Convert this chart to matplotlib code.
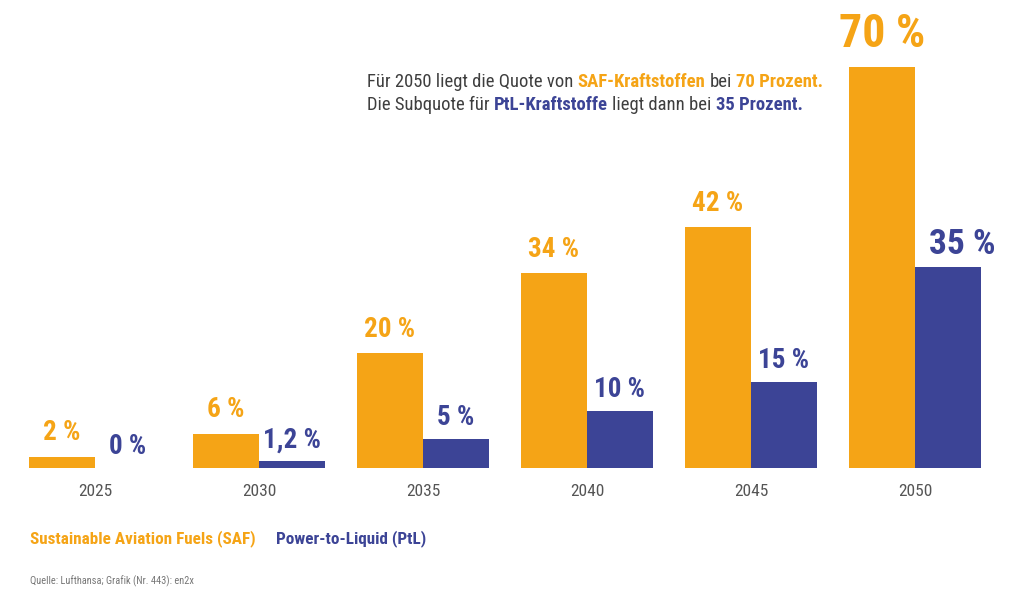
import matplotlib
matplotlib.use('Agg')
import numpy as np
import matplotlib.pyplot as plt

# data
years = ['2025', '2030', '2035', '2040', '2045', '2050']
saf = [2, 6, 20, 34, 42, 70]
ptl = [0, 1.2, 5, 10, 15, 35]
saf_labels = ['2 %', '6 %', '20 %', '34 %', '42 %', '70 %']
ptl_labels = ['0 %', '1,2 %', '5 %', '10 %', '15 %', '35 %']

ORANGE = '#F5A416'
BLUE = '#3C4496'
GREY = '#555555'
plt.rcParams['font.family'] = ['Roboto Condensed', 'DejaVu Sans']

W, H = 1024, 603
fig = plt.figure(figsize=(W / 100, H / 100), dpi=100)

# axes laid out in pixels: baseline at y=468, group centres at 95 + 164*i
px_per_unit = 164.0
px_per_pct = 5.73
x0 = 95
ax = fig.add_axes([0, (H - 468) / H, 1, 468 / H])
ax.set_xlim(-x0 / px_per_unit, (W - x0) / px_per_unit)
ax.set_ylim(0, 468 / px_per_pct)
ax.axis('off')

x = np.arange(len(years))
bw = 66 / px_per_unit
ax.bar(x - bw / 2, saf, bw, color=ORANGE, linewidth=0)
ax.bar(x + bw / 2, ptl, bw, color=BLUE, linewidth=0)

for i in range(len(years)):
    last = i == len(years) - 1
    ax.annotate(saf_labels[i], (x[i] - bw / 2, saf[i]), xytext=(0, 14 if last else 12),
                textcoords='offset points', ha='center', va='baseline', color=ORANGE,
                fontsize=33 if last else 19.5, fontweight='bold')
    ax.annotate(ptl_labels[i], (x[i] + bw / 2, ptl[i]), xytext=(10 if last else 0, 10),
                textcoords='offset points', ha='center', va='baseline', color=BLUE,
                fontsize=25.5 if last else 19.5, fontweight='bold')
    ax.annotate(years[i], (x[i], 0), xytext=(0, -11.5), textcoords='offset points',
                ha='center', va='top', color=GREY, fontsize=12.5)

fig.canvas.draw()
renderer = fig.canvas.get_renderer()


def rich_line(pieces, xpx, ypx, size):
    # pieces: list of (text, colour, weight); joined by single spaces
    probe = fig.text(0, 0, 'a a', fontsize=size)
    w1 = probe.get_window_extent(renderer).width
    probe.set_text('aa')
    space = w1 - probe.get_window_extent(renderer).width
    probe.remove()
    cur = xpx
    for txt, col, wt in pieces:
        t = fig.text(cur / W, 1 - ypx / H, txt, color=col, fontweight=wt, fontsize=size,
                     ha='left', va='baseline')
        cur += t.get_window_extent(renderer).width + space


TXT = '#3e3e3e'
rich_line([('Für 2050 liegt die Quote von', TXT, 'normal'),
           ('SAF-Kraftstoffen', ORANGE, 'bold'),
           ('bei', TXT, 'normal'),
           ('70 Prozent.', ORANGE, 'bold')], 367, 87, 13.4)
rich_line([('Die Subquote für', TXT, 'normal'),
           ('PtL-Kraftstoffe', BLUE, 'bold'),
           ('liegt dann bei', TXT, 'normal'),
           ('35 Prozent.', BLUE, 'bold')], 367, 110, 13.4)

fig.text(30 / W, 1 - 543 / H, 'Sustainable Aviation Fuels (SAF)', color=ORANGE,
         fontweight='bold', fontsize=12.3, ha='left', va='baseline')
fig.text(276 / W, 1 - 543 / H, 'Power-to-Liquid (PtL)', color=BLUE,
         fontweight='bold', fontsize=12.3, ha='left', va='baseline')
fig.text(30 / W, 1 - 584 / H, 'Quelle: Lufthansa; Grafik (Nr. 443): en2x', color='#777777',
         fontsize=7.5, ha='left', va='baseline')

fig.savefig('out.png', dpi=100)
